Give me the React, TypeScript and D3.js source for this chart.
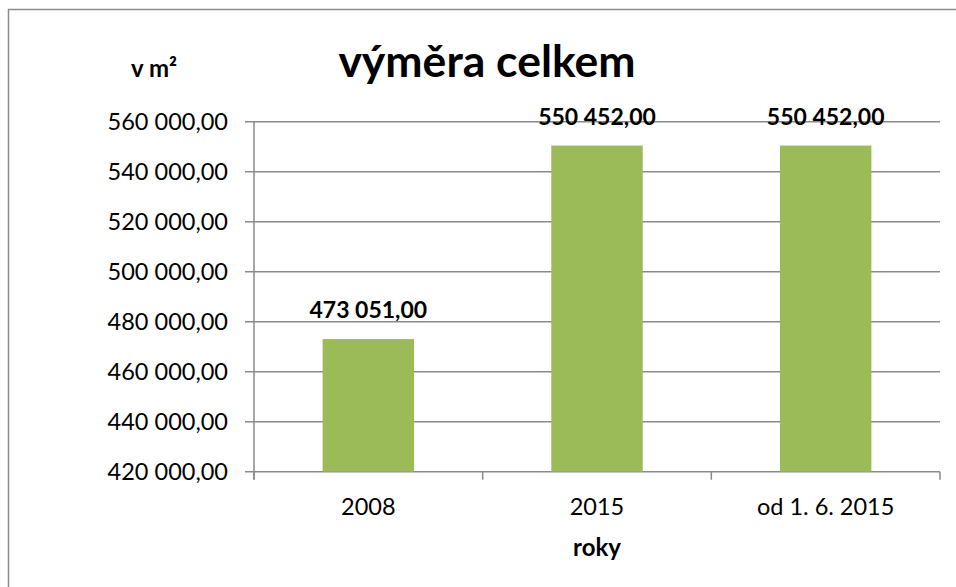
import React from "react";
import * as d3 from "d3";

const categories = ["2008", "2015", "od 1. 6. 2015"];
const values = [473051, 550452, 550452];
const yTicks = [420000, 440000, 460000, 480000, 500000, 520000, 540000, 560000];
const title = "výměra celkem";
const yTitle = "v m²";
const xTitle = "roky";

const W = 956;
const H = 587;
const plot = { left: 254, right: 940, top: 121.7, bottom: 471.7 };
const FONT = "Lato, 'Open Sans', sans-serif";
const GRID = "#8a8a8a";

const fmt = (v: number) => {
  const s = v.toFixed(2).replace(".", ",");
  const [i, d] = s.split(",");
  return i.replace(/\B(?=(\d{3})+(?!\d))/g, " ") + "," + d;
};

export default function App() {
  const x = d3
    .scaleBand<string>()
    .domain(categories)
    .range([plot.left, plot.right])
    .paddingInner(0.6)
    .paddingOuter(0.3);
  const y = d3.scaleLinear().domain([420000, 560000]).range([plot.bottom, plot.top]);
  const step = x.step();
  const boundaries = d3.range(categories.length + 1).map((i) => plot.left + i * step);

  return (
    <svg
      width={W}
      height={H}
      style={{ position: "absolute", left: 0, top: 0, background: "#fff" }}
      fontFamily={FONT}
    >
      <rect x={0} y={0} width={W} height={H} fill="#fff" />
      {/* chart border */}
      <path d={`M8.5,${H + 5} V9.5 H${W + 5}`} fill="none" stroke="#8c8c8c" strokeWidth={1.5} />

      {/* grid lines */}
      {yTicks.map((t) => (
        <line key={"g" + t} x1={plot.left - 9} x2={plot.right} y1={y(t)} y2={y(t)} stroke={GRID} strokeWidth={1.5} />
      ))}
      {/* y axis */}
      <line x1={plot.left} x2={plot.left} y1={plot.top} y2={plot.bottom + 8} stroke={GRID} strokeWidth={1.5} />
      {yTicks.map((t) => (
        <text key={"yl" + t} x={228} y={y(t)} dy="0.36em" textAnchor="end" fontSize={23.5} fill="#000">
          {fmt(t)}
        </text>
      ))}
      {/* x ticks */}
      {boundaries.map((b, i) => (
        <line key={"xt" + i} x1={b} x2={b} y1={plot.bottom} y2={plot.bottom + 8} stroke={GRID} strokeWidth={1.5} />
      ))}

      {/* bars */}
      {categories.map((c, i) => (
        <rect
          key={"b" + c}
          x={x(c)}
          y={y(values[i])}
          width={x.bandwidth()}
          height={plot.bottom - y(values[i])}
          fill="#9bbb59"
        />
      ))}
      {/* value labels */}
      {categories.map((c, i) => (
        <text
          key={"v" + c}
          x={(x(c) as number) + x.bandwidth() / 2}
          y={y(values[i]) - 21}
          textAnchor="middle"
          fontSize={23}
          fontWeight="bold"
          fill="#000"
        >
          {fmt(values[i])}
        </text>
      ))}
      {/* x labels */}
      {categories.map((c) => (
        <text key={"xl" + c} x={(x(c) as number) + x.bandwidth() / 2} y={515} textAnchor="middle" fontSize={23.5} fill="#000">
          {c}
        </text>
      ))}

      {/* titles */}
      <text x={487} y={77} textAnchor="middle" fontSize={44.5} fontWeight="bold" fill="#000">
        {title}
      </text>
      <text x={131} y={77} fontSize={24} fontWeight="bold" fill="#000">
        {yTitle}
      </text>
      <text x={597} y={556} textAnchor="middle" fontSize={24} fontWeight="bold" fill="#000">
        {xTitle}
      </text>
    </svg>
  );
}
